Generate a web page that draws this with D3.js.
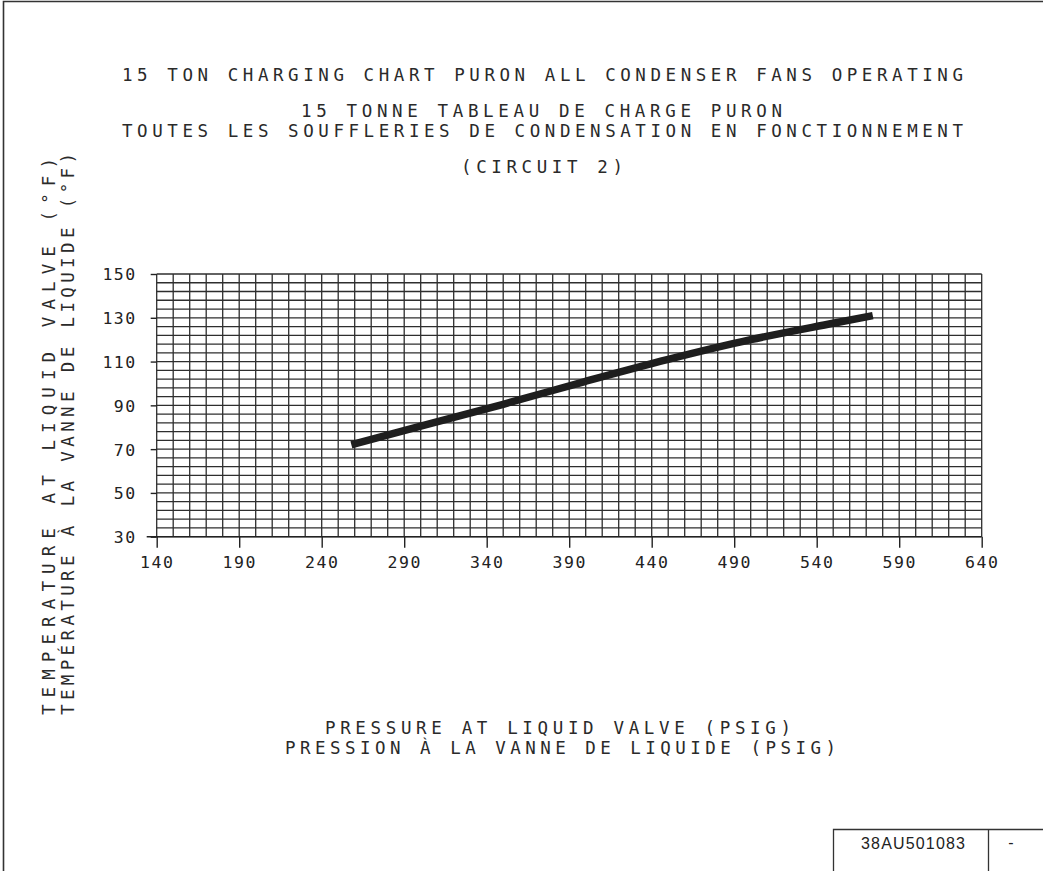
<!DOCTYPE html>
<html>
<head>
<meta charset="utf-8">
<title>15 Ton Charging Chart</title>
<script src="https://cdn.jsdelivr.net/npm/d3@7"></script>
<style>
	body { margin: 0; background: #fff; }
	.grid line { stroke: #2e2e2e; stroke-width: 1.3; }
	.axis text { font-family: "DejaVu Sans Mono", monospace; font-size: 16.5px; fill: #222; letter-spacing: 1.5px; }
	.axis path, .axis line { stroke: #222; stroke-width: 1.4; }
	.title { font-family: "DejaVu Sans Mono", monospace; font-size: 17.5px; fill: #2a2a2a; }
</style>
</head>
<body>
<div id="chart"></div>
<script>
// chart data
var pressure = [258, 300, 350, 400, 450, 500, 550, 574];
var temperature = [72, 80.5, 90.5, 101, 111, 120, 127.5, 131];

var xTicks = [140, 190, 240, 290, 340, 390, 440, 490, 540, 590, 640];
var yTicks = [30, 50, 70, 90, 110, 130, 150];

var titleLines = [
	"15 TON CHARGING CHART PURON ALL CONDENSER FANS OPERATING",
	"15 TONNE TABLEAU DE CHARGE PURON",
	"TOUTES LES SOUFFLERIES DE CONDENSATION EN FONCTIONNEMENT",
	"(CIRCUIT 2)"
];
var xLabelLines = ["PRESSURE AT LIQUID VALVE (PSIG)", "PRESSION \u00C0 LA VANNE DE LIQUIDE (PSIG)"];
var yLabelLines = ["TEMPERATURE AT LIQUID VALVE (\u00B0F)", "TEMP\u00C9RATURE \u00C0 LA VANNE DE LIQUIDE (\u00B0F)"];
var drawingNo = "38AU501083";

var w = 1043;
var h = 871;
var plotLeft = 156.7, plotRight = 981.7, plotTop = 274, plotBottom = 536.7;
var xScale, yScale, svg;

function drawChart() {

	var dataset = pressure.map(function(p, i) { return {p: p, t: temperature[i]}; });

	xScale = d3.scaleLinear().domain([140, 640]).range([plotLeft, plotRight]);
	yScale = d3.scaleLinear().domain([30, 150]).range([plotBottom, plotTop]);

	svg = d3.select("#chart")
		.append("svg")
		.attr("width", w)
		.attr("height", h);

	// sheet border
	svg.append("path")
		.attr("d", "M3.5," + h + "V1.5H" + w)
		.attr("fill", "none")
		.attr("stroke", "#333")
		.attr("stroke-width", 1.6);

	// grid: 10 psig by 4 degrees
	var grid = svg.append("g").attr("class", "grid");
	grid.selectAll(".v")
		.data(d3.range(140, 641, 10))
		.enter().append("line")
		.attr("x1", function(d) { return xScale(d); })
		.attr("x2", function(d) { return xScale(d); })
		.attr("y1", plotTop).attr("y2", plotBottom);
	grid.selectAll(".h")
		.data(d3.range(30, 151, 4))
		.enter().append("line")
		.attr("y1", function(d) { return yScale(d); })
		.attr("y2", function(d) { return yScale(d); })
		.attr("x1", plotLeft).attr("x2", plotRight);

	var xAxis = d3.axisBottom(xScale).tickValues(xTicks).tickSize(11).tickPadding(9).tickSizeOuter(0);
	var yAxis = d3.axisLeft(yScale).tickValues(yTicks).tickSize(6).tickPadding(14).tickSizeOuter(0);

	var gx = svg.append("g")
		.attr("class", "axis")
		.attr("transform", "translate(0," + plotBottom + ")")
		.call(xAxis);
	gx.select(".domain").attr("d", "M" + (plotLeft - 10) + ",0H" + plotRight);

	var gy = svg.append("g")
		.attr("class", "axis")
		.attr("transform", "translate(" + plotLeft + ",0)")
		.call(yAxis);
	gy.select(".domain").remove();
	gy.selectAll("text").attr("dy", "0.36em");

	// charging line
	var line = d3.line()
		.x(function(d) { return xScale(d.p); })
		.y(function(d) { return yScale(d.t); })
		.curve(d3.curveMonotoneX);

	svg.append("path")
		.datum(dataset)
		.attr("d", line)
		.attr("fill", "none")
		.attr("stroke", "#1e1e1e")
		.attr("stroke-width", 7.5);

	// titles
	var titlePos = [[122, 81, 841], [301, 117, 481], [122, 137, 841], [461, 173, 162]];
	titleLines.forEach(function(t, i) {
		svg.append("text")
			.attr("class", "title")
			.attr("x", titlePos[i][0])
			.attr("y", titlePos[i][1])
			.attr("textLength", titlePos[i][2])
			.attr("lengthAdjust", "spacing")
			.text(t);
	});

	var xLabPos = [[325, 734, 466], [285, 754, 551]];
	xLabelLines.forEach(function(t, i) {
		svg.append("text")
			.attr("class", "title")
			.attr("x", xLabPos[i][0])
			.attr("y", xLabPos[i][1])
			.attr("textLength", xLabPos[i][2])
			.attr("lengthAdjust", "spacing")
			.text(t);
	});

	var yLabPos = [[55, 715, 557], [74, 715, 562]];
	yLabelLines.forEach(function(t, i) {
		svg.append("text")
			.attr("class", "title")
			.attr("transform", "translate(" + yLabPos[i][0] + "," + yLabPos[i][1] + ") rotate(-90)")
			.attr("textLength", yLabPos[i][2])
			.attr("lengthAdjust", "spacing")
			.text(t);
	});

	// title block
	svg.append("path")
		.attr("d", "M833.5," + h + "V829.5H" + w + "M988.5,829.5V" + h)
		.attr("fill", "none")
		.attr("stroke", "#333")
		.attr("stroke-width", 1.3);
	svg.append("text")
		.attr("x", 913).attr("y", 849)
		.attr("text-anchor", "middle")
		.attr("font-family", "Liberation Sans, Arial, sans-serif")
		.attr("font-size", 16)
		.attr("textLength", 104)
		.attr("fill", "#222")
		.text(drawingNo);
	svg.append("text")
		.attr("x", 1011).attr("y", 848)
		.attr("text-anchor", "middle")
		.attr("font-family", "Liberation Sans, Arial, sans-serif")
		.attr("font-size", 16)
		.attr("fill", "#222")
		.text("-");
}

function init() {
	drawChart();
}

window.onload = init;
</script>
</body>
</html>
